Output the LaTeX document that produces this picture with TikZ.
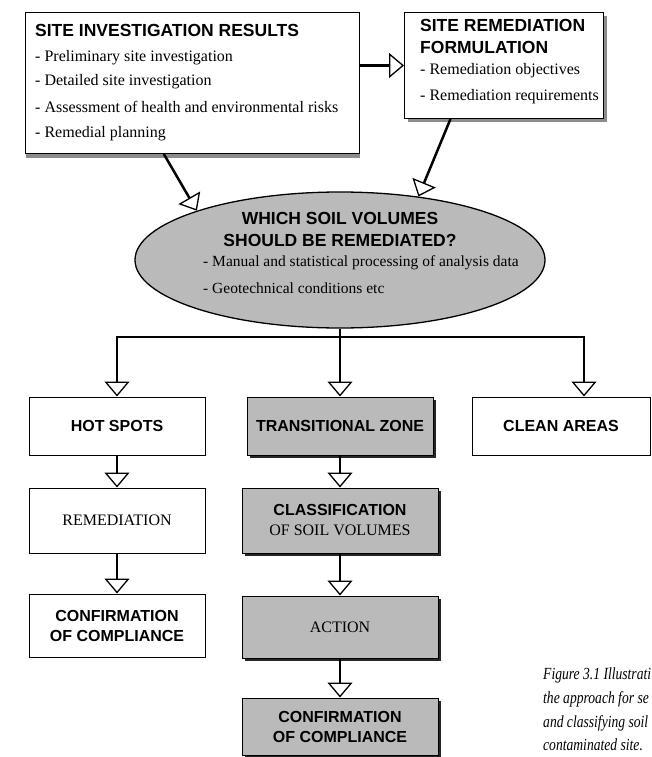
\documentclass[tikz,border=0pt]{standalone}
\usepackage{fontspec}
\setmainfont{Liberation Serif}
\setsansfont{Liberation Sans}
\newfontfamily\capfont[FakeStretch=0.8]{Liberation Serif}
\usetikzlibrary{arrows.meta,shapes.geometric,shadows}

\newcommand{\bigttl}{\sffamily\bfseries\fontsize{17.5}{22}\selectfont}
\newcommand{\boxttl}{\sffamily\bfseries\fontsize{16}{20}\selectfont}
\newcommand{\bodytxt}{\rmfamily\mdseries\fontsize{16}{20}\selectfont}
\newcommand{\serifttl}{\rmfamily\mdseries\fontsize{16}{20}\selectfont}

\tikzset{
  whitebox/.style={draw, line width=1pt, fill=white, inner sep=0pt, align=center},
  greybox/.style={draw, line width=1pt, fill=black!27, inner sep=0pt, align=center,
    drop shadow={shadow xshift=3pt, shadow yshift=-3pt, fill=black!85, opacity=1}},
  listline/.style={anchor=west, inner sep=0pt, font=\bodytxt},
  capline/.style={anchor=west, inner sep=0pt, font=\capfont\itshape\fontsize{17}{20}\selectfont},
  flow/.style={line width=2.5pt, -{Triangle[open, width=25pt, length=15pt, line width=1.3pt]}},
}

\begin{document}
\begin{tikzpicture}[x=1pt,y=-1pt]
\useasboundingbox (0,0) rectangle (652,757);

\node[whitebox, anchor=north west, minimum width=334pt, minimum height=141pt,
  drop shadow={shadow xshift=0pt, shadow yshift=-4pt, fill=black!45, opacity=1}] (results) at (25,12) {};
\node[listline, font=\bigttl] (results-0) at (35,30) {SITE INVESTIGATION RESULTS};
\foreach \y/\txt [count=\i] in {58/Preliminary site investigation, 82/Detailed site investigation,
    107/Assessment of health and environmental risks, 134/Remedial planning}
  \node[listline] (results-\i) at (35,\y) {- \txt};

\node[whitebox, anchor=north west, minimum width=199pt, minimum height=106pt,
  drop shadow={shadow xshift=3pt, shadow yshift=-4pt, fill=black!45, opacity=1}] (remform) at (404,12) {};
\node[listline, font=\bigttl] (remform-0) at (420,25) {SITE REMEDIATION};
\node[listline, font=\bigttl] (remform-00) at (420,47) {FORMULATION};
\node[listline] (remform-1) at (420,71) {- Remediation objectives};
\node[listline] (remform-2) at (420,97) {- Remediation requirements};

\node[ellipse, draw, line width=1.3pt, fill=black!27, minimum width=410pt, minimum height=136pt, inner sep=0pt] (which) at (340,260) {};
\node[align=center, inner sep=0pt, font=\bigttl] (which-ttl) at (340,229) {WHICH SOIL VOLUMES\\ SHOULD BE REMEDIATED?};
\node[listline, font=\fontsize{15.5}{20}\selectfont] (which-1) at (203,263) {- Manual and statistical processing of analysis data};
\node[listline, font=\fontsize{15.5}{20}\selectfont] (which-2) at (203,288) {- Geotechnical conditions etc};

\node[whitebox, minimum width=176pt, minimum height=58pt, font=\boxttl] (hot) at (117,426) {HOT SPOTS};
\node[greybox, minimum width=186pt, minimum height=58pt, font=\boxttl] (trans) at (340,426) {TRANSITIONAL ZONE};
\node[whitebox, minimum width=178pt, minimum height=58pt, font=\boxttl] (clean) at (561,426) {CLEAN AREAS};

\node[whitebox, minimum width=176pt, minimum height=65pt, font=\serifttl] (remed) at (117,520.5) {REMEDIATION};
\node[greybox, minimum width=196pt, minimum height=65pt, font=\boxttl] (classif) at (340,520.5) {CLASSIFICATION\\ \serifttl OF SOIL VOLUMES};
\node[whitebox, minimum width=176pt, minimum height=63pt, font=\boxttl] (comply-l) at (117,625.5) {CONFIRMATION\\ OF COMPLIANCE};
\node[greybox, minimum width=196pt, minimum height=62pt, font=\serifttl] (action) at (340,627) {ACTION};
\node[greybox, minimum width=196pt, minimum height=57pt, font=\boxttl] (comply-m) at (340,726.5) {CONFIRMATION\\ OF COMPLIANCE};

\draw[flow] (results.east |- remform.west) -- (remform.west);
\draw[flow] (results.248) -- (which.161);
\draw[flow] (remform.225) -- (which.39);

\coordinate (bus-l) at (117,337);
\coordinate (bus-r) at (584,337);
\draw[flow] (which.south) -- (trans.north);
\draw[flow] (bus-r) -- (bus-l) -- (hot.north);
\draw[flow] (bus-l) -- (bus-r) -- (bus-r |- clean.north);

\draw[flow] (hot.south) -- (remed.north);
\draw[flow] (remed.south) -- (comply-l.north);
\draw[flow] (trans.south) -- (classif.north);
\draw[flow] (classif.south) -- (action.north);
\draw[flow] (action.south) -- (comply-m.north);

\node[capline] (cap-1) at (543,675) {Figure 3.1 Illustrati};
\node[capline] (cap-2) at (543,699) {the approach for se};
\node[capline] (cap-3) at (543,723) {and classifying soil};
\node[capline] (cap-4) at (543,745) {contaminated site.};
\end{tikzpicture}
\end{document}
